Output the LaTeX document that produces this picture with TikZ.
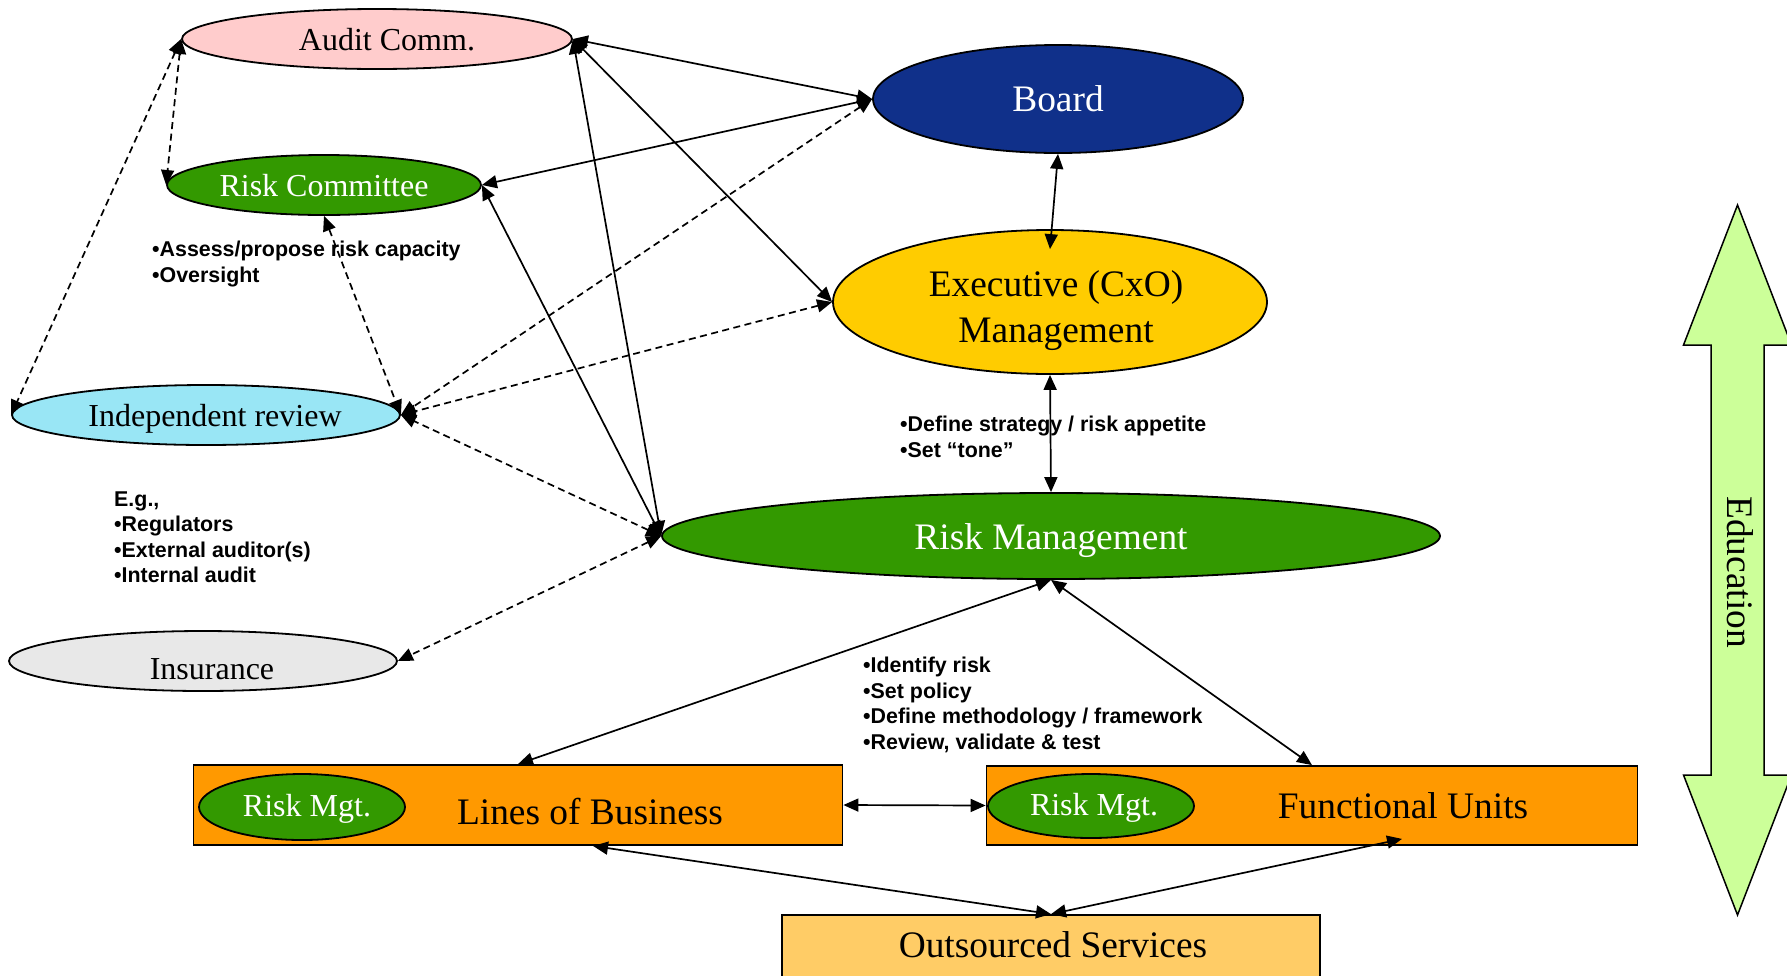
\documentclass[tikz,border=0pt]{standalone}
\usepackage{fontspec}
\setmainfont{Liberation Serif}
\newfontfamily\notefont{Liberation Sans}
\usetikzlibrary{shapes.geometric,arrows.meta}

\definecolor{auditpink}{HTML}{FFCCCC}
\definecolor{boardblue}{HTML}{10308A}
\definecolor{riskgreen}{HTML}{339900}
\definecolor{execgold}{HTML}{FFCC00}
\definecolor{reviewcyan}{HTML}{99E6F5}
\definecolor{insgrey}{HTML}{E8E8E8}
\definecolor{unitorange}{HTML}{FF9900}
\definecolor{outsrc}{HTML}{FFCC66}
\definecolor{edugreen}{HTML}{CCFF99}

\tikzset{
  oval/.style={ellipse, draw=black, line width=1.8pt, inner sep=0pt},
  bigtext/.style={font=\fontsize{37.4}{46}\selectfont, inner sep=0pt},
  midtext/.style={font=\fontsize{32}{37}\selectfont, inner sep=0pt},
  unitbox/.style={rectangle, draw=black, line width=1.8pt, fill=unitorange, inner sep=0pt},
  note/.style={font=\notefont\bfseries\fontsize{21.4}{25.5}\selectfont, align=left, anchor=west, inner sep=0pt},
  link/.style={{Triangle[length=15pt,width=13pt]}-{Triangle[length=15pt,width=13pt]}, line width=1.7pt},
  dlink/.style={link, dash pattern=on 7pt off 4.5pt},
}

\begin{document}
\begin{tikzpicture}[x=1pt,y=-1pt]
\useasboundingbox (0,0) rectangle (1787,975);
\clip (0,0) rectangle (1787,975);

% governance bodies (shapes first, captions placed on top)
\node[oval, fill=auditpink, minimum width=390pt, minimum height=60pt] (audit) at (377,39) {};
\node[midtext] (audit-t) at ([xshift=10pt,yshift=-1pt]audit.center) {Audit Comm.};

\node[oval, fill=boardblue, minimum width=370pt, minimum height=108pt] (board) at (1058,99) {};
\node[bigtext, text=white] (board-t) at (board.center) {Board};

\node[oval, fill=riskgreen, minimum width=314pt, minimum height=60pt] (rc) at (324,185) {};
\node[midtext, text=white] (rc-t) at ([yshift=-1pt]rc.center) {Risk Committee};

\node[oval, fill=execgold, minimum width=434pt, minimum height=144pt] (exec) at (1050,302) {};
\node[bigtext, align=center] (exec-t) at ([xshift=6pt,yshift=-9pt]exec.center) {Executive (CxO)\\Management};

\node[oval, fill=reviewcyan, minimum width=388pt, minimum height=60pt] (ir) at (206,415) {};
\node[midtext] (ir-t) at ([xshift=9pt,yshift=-3.5pt]ir.center) {Independent review};

\node[oval, fill=riskgreen, minimum width=778pt, minimum height=86pt] (rm) at (1051,536) {};
\node[bigtext, text=white] (rm-t) at ([yshift=-4.5pt]rm.center) {Risk Management};

\node[oval, fill=insgrey, minimum width=388pt, minimum height=60pt] (ins) at (203,661) {};
\node[midtext] (ins-t) at ([xshift=9pt,yshift=-8pt]ins.center) {Insurance};

% business units
\node[unitbox, minimum width=649pt, minimum height=80pt] (lob) at (518,805) {};
\node[oval, fill=riskgreen, minimum width=206pt, minimum height=66pt] (lobrm) at (302,807) {};
\node[midtext, text=white] (lobrm-t) at ([xshift=5pt,yshift=-2pt]lobrm.center) {Risk Mgt.};
\node[bigtext] (lob-t) at (590,812) {Lines of Business};

\node[unitbox, minimum width=651pt, minimum height=79pt] (fu) at (1312,805.5) {};
\node[oval, fill=riskgreen, minimum width=206pt, minimum height=64pt] (furm) at (1091,806) {};
\node[midtext, text=white] (furm-t) at ([xshift=3pt,yshift=-2pt]furm.center) {Risk Mgt.};
\node[bigtext] (fu-t) at (1403,806) {Functional Units};

\node[rectangle, draw=black, line width=1.8pt, fill=outsrc, minimum width=538pt, minimum height=62pt] (out) at (1051,946) {};
\node[bigtext] (out-t) at ([xshift=2pt,yshift=1pt]out.center) {Outsourced Services};

% education double arrow
\draw[line width=1.5pt, fill=edugreen, line join=miter]
  (1737.5,205) -- (1791.5,345) -- (1764,345) -- (1764,775) -- (1791.5,775)
  -- (1737.5,915) -- (1683.5,775) -- (1711,775) -- (1711,345) -- (1683.5,345) -- cycle;
\node[bigtext, rotate=-90] (edu) at (1740,572) {Education};

% annotations
\node[note] (capnote) at (152,264) {•Assess/propose risk capacity\\•Oversight};
\node[note] (egnote) at (114,537) {E.g.,\\•Regulators\\•External auditor(s)\\•Internal audit};
\node[note] (stratnote) at (900,437) {•Define strategy / risk appetite\\•Set “tone”};
\node[note] (policynote) at (863,705) {•Identify risk\\•Set policy\\•Define methodology / framework\\•Review, validate \& test};

% solid connectors
\draw[link] (audit.east) -- (board.west);
\draw[link] (board.west) -- (rc.east);
\draw[link] (audit.east) -- (exec.west);
\draw[link] (audit.east) -- (rm.west);
\draw[link] (rc.east) -- (rm.west);
\draw[link] (board.south) -- ([yshift=-20pt]exec.north);
\draw[link] (exec.south) -- (rm.north);
\draw[link] (rm.south) -- (lob.north);
\draw[link] (rm.south) -- (fu.north);
\draw[link] (lob.east) -- (fu.west);
\draw[link] ([xshift=75pt]lob.south) -- (out.north);
\draw[link] ([xshift=90pt,yshift=7pt]fu.south) -- (out.north);

% dashed connectors
\draw[dlink] (audit.west) -- (ir.west);
\draw[dlink] (audit.west) -- (rc.west);
\draw[dlink] (rc.south) -- (ir.east);
\draw[dlink] (board.west) -- (ir.east);
\draw[dlink] (exec.west) -- (ir.east);
\draw[dlink] (rm.west) -- (ir.east);
\draw[dlink] (rm.west) -- (ins.east);
\end{tikzpicture}
\end{document}
